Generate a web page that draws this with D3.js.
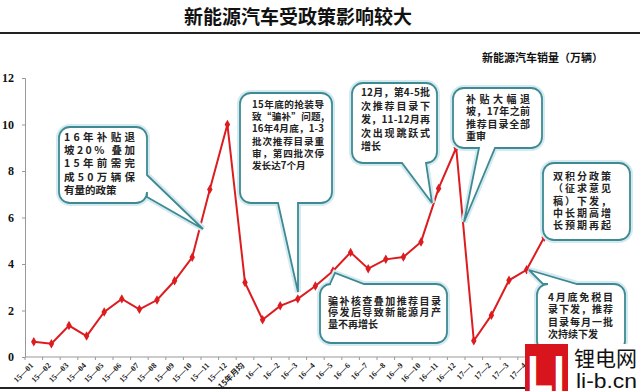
<!DOCTYPE html>
<html><head><meta charset="utf-8">
<script src="https://cdn.jsdelivr.net/npm/d3@7/dist/d3.min.js"></script>
<style>
body{margin:0;background:#fff;}
svg{display:block;}
</style></head>
<body>
<script>
const title = "新能源汽车受政策影响较大";
const seriesName = "新能源汽车销量（万辆）";
const categories = ["15—01","15—02","15—03","15—04","15—05","15—06","15—07","15—08","15—09","15—10","15—11","15—12","15年月均",
  "16—1","16—2","16—3","16—4","16—5","16—6","16—7","16—8","16—9","16—10","16—11","16—12",
  "17—1","17—2","17—3","17—4","17—5"];
const sales = [0.66,0.57,1.35,0.9,1.94,2.5,2.05,2.45,3.28,4.29,7.2,10.0,3.2,
  1.6,2.2,2.5,3.05,3.7,4.5,3.8,4.2,4.3,4.95,7.25,9.0,
  0.7,1.8,3.3,3.75,5.15];
const yTicks = [0,2,4,6,8,10,12];

const notes = [
  ["16年补贴退","坡20% 叠加","15年前需完","成50万辆保","有量的政策"],
  ["15年底的抢装导","致“骗补”问题,","16年4月底，1-3","批次推荐目录重","审，第四批次停","发长达7个月"],
  ["12月，第4-5批","次推荐目录下","发，11-12月再","次出现跳跃式","增长"],
  ["补贴大幅退","坡，17年之前","推荐目录全部","重审"],
  ["双积分政策","（征求意见","稿）下发，","中长期高增","长预期再起"],
  ["骗补核查叠加推荐目录","停发后导致新能源月产","量不再增长"],
  ["4月底免税目","录下发，推荐","目录每月一批","次持续下发"]
];

const W = 640, H = 391;
const svg = d3.select("body").append("svg").attr("width", W).attr("height", H);

const x = d3.scaleBand().domain(categories).range([25, 553]).paddingInner(0).paddingOuter(0);
const y = d3.scaleLinear().domain([0, 12]).range([357, 78]);
const cx = d => x(d) + x.bandwidth() / 2;

svg.append("text").attr("x", 298).attr("y", 24).attr("text-anchor", "middle")
  .attr("font-family", "Noto Sans CJK SC").attr("font-weight", "bold").attr("font-size", 19)
  .attr("fill", "#111").text(title);
svg.append("line").attr("x1", 0).attr("x2", W).attr("y1", 33).attr("y2", 33)
  .attr("stroke", "#222").attr("stroke-width", 2);
svg.append("text").attr("x", 603).attr("y", 62).attr("text-anchor", "end")
  .attr("font-family", "Noto Sans CJK SC").attr("font-weight", "bold").attr("font-size", 11)
  .attr("fill", "#111").text(seriesName);

const yAxis = svg.append("g").attr("transform", "translate(25,0)")
  .call(d3.axisLeft(y).tickValues(yTicks).tickSize(3).tickPadding(8).tickFormat(d3.format("d")));
yAxis.selectAll("path, line").attr("stroke", "#999");
yAxis.selectAll("text").attr("font-family", "Liberation Serif").attr("font-weight", "bold")
  .attr("font-size", 12).attr("fill", "#111");

const xg = svg.append("g");
xg.append("line").attr("x1", 25).attr("x2", 553).attr("y1", y(0)).attr("y2", y(0)).attr("stroke", "#999");
xg.selectAll("line.tk").data(categories.concat(["__end"])).join("line").attr("class", "tk")
  .attr("x1", d => d === "__end" ? 553 : x(d)).attr("x2", d => d === "__end" ? 553 : x(d))
  .attr("y1", y(0)).attr("y2", y(0) + 3).attr("stroke", "#999");
xg.selectAll("text").data(categories).join("text")
  .attr("transform", d => `translate(${cx(d) - 2},${y(0) + 7}) rotate(-45)`)
  .attr("text-anchor", "end").attr("dy", "0.35em")
  .attr("font-family", d => d.includes("年") ? "Noto Sans CJK SC" : "Liberation Serif")
  .attr("font-weight", "bold").attr("font-size", 8).attr("fill", "#222").text(d => d);

const red = "#dc1c1f";
svg.append("path").datum(sales)
  .attr("d", d3.line().x((d, i) => cx(categories[i])).y(d => y(d)))
  .attr("fill", "none").attr("stroke", red).attr("stroke-width", 2);
svg.selectAll("path.mk").data(sales).join("path").attr("class", "mk")
  .attr("transform", (d, i) => `translate(${cx(categories[i])},${y(d)})`)
  .attr("d", d3.symbol(d3.symbolDiamond, 26)).attr("fill", red);

function bubble(bx, by, w, h, r, side, a, b, tip) {
  const p = d3.path();
  p.moveTo(bx + r, by);
  if (side === "top") { p.lineTo(bx + a, by); p.lineTo(tip[0], tip[1]); p.lineTo(bx + b, by); }
  p.lineTo(bx + w - r, by); p.arcTo(bx + w, by, bx + w, by + r, r);
  if (side === "right") { p.lineTo(bx + w, by + a); p.lineTo(tip[0], tip[1]); p.lineTo(bx + w, by + b); }
  p.lineTo(bx + w, by + h - r); p.arcTo(bx + w, by + h, bx + w - r, by + h, r);
  if (side === "bottom") { p.lineTo(bx + b, by + h); p.lineTo(tip[0], tip[1]); p.lineTo(bx + a, by + h); }
  p.lineTo(bx + r, by + h); p.arcTo(bx, by + h, bx, by + h - r, r);
  if (side === "left") { p.lineTo(bx, by + b); p.lineTo(tip[0], tip[1]); p.lineTo(bx, by + a); }
  p.lineTo(bx, by + r); p.arcTo(bx, by, bx + r, by, r);
  p.closePath();
  return p.toString();
}
const boxes = [
  {bx:59, by:127, w:88, h:76, side:"right", a:48, b:70, tip:[203,229], tx:64, ty:141, lh:13.2, fw:71, fs:10.5},
  {bx:240, by:93, w:92, h:110, side:"bottom", a:38, b:58, tip:[298,292], tx:252, ty:108, lh:12.2, fw:72, fs:9.6},
  {bx:352, by:83, w:85, h:80, side:"bottom", a:50, b:74, tip:[432,203], tx:361, ty:96, lh:13.5, fw:69, fs:10},
  {bx:453, by:88, w:89, h:60, side:"bottom", a:26, b:42, tip:[464,222], tx:466, ty:103, lh:12.3, fw:64, fs:10},
  {bx:543, by:163, w:87, h:77, side:null, a:0, b:0, tip:[0,0], tx:553, ty:180, lh:12.3, fw:58, fs:10},
  {bx:320, by:284, w:127, h:59, side:"top", a:10, b:44, tip:[335,273], tx:328, ty:305, lh:11.3, fw:113, fs:10},
  {bx:537, by:284, w:88, h:68, side:"top", a:6, b:40, tip:[529,270], tx:548, ty:301, lh:12.3, fw:65, fs:10}
];
const cg = svg.append("g");
notes.forEach((lines, i) => {
  const bb = boxes[i];
  const d = bubble(bb.bx, bb.by, bb.w, bb.h, 11, bb.side, bb.a, bb.b, bb.tip);
  cg.append("path").attr("d", d).attr("fill", "none").attr("stroke", "#d4eaf1").attr("stroke-width", 6);
  cg.append("path").attr("d", d).attr("fill", "#fff").attr("stroke", "#3f8a92").attr("stroke-width", 1.8);
  const t = cg.append("text").attr("x", bb.tx).attr("y", bb.ty)
    .attr("font-family", "Noto Sans CJK SC").attr("font-weight", "bold").attr("font-size", bb.fs)
    .attr("fill", "#222");
  lines.forEach((ln, j) => {
    const s = t.append("tspan").attr("x", bb.tx).attr("y", bb.ty + j * bb.lh).text(ln);
    const last = j === lines.length - 1;
    const natural = s.node().getComputedTextLength();
    if (natural < bb.fw && (!last || natural > bb.fw * 0.85)) {
      s.attr("textLength", bb.fw).attr("lengthAdjust", "spacing");
    }
  });
});

svg.append("line").attr("x1", 0).attr("x2", 525).attr("y1", 388).attr("y2", 388)
  .attr("stroke", "#222").attr("stroke-width", 2);
svg.append("rect").attr("x", 568).attr("y", 344).attr("width", 72).attr("height", 47).attr("fill", "#fff");
svg.append("rect").attr("x", 525).attr("y", 344).attr("width", 43).attr("height", 47).attr("fill", "#d8151c");
svg.append("text").attr("x", 527).attr("y", 391).attr("font-family", "Liberation Sans").attr("font-weight", "bold")
  .attr("font-size", 50).attr("fill", "#fff").attr("textLength", 38).attr("lengthAdjust", "spacingAndGlyphs").text("LI");
svg.append("text").attr("x", 574).attr("y", 366).attr("font-family", "Noto Sans CJK SC")
  .attr("font-size", 21).attr("fill", "#111").attr("textLength", 63).attr("lengthAdjust", "spacing").text("锂电网");
svg.append("text").attr("x", 576).attr("y", 388).attr("font-family", "Liberation Sans")
  .attr("font-size", 20).attr("fill", "#111").attr("textLength", 61).attr("lengthAdjust", "spacingAndGlyphs").text("li-b.cn");
</script>
</body></html>
